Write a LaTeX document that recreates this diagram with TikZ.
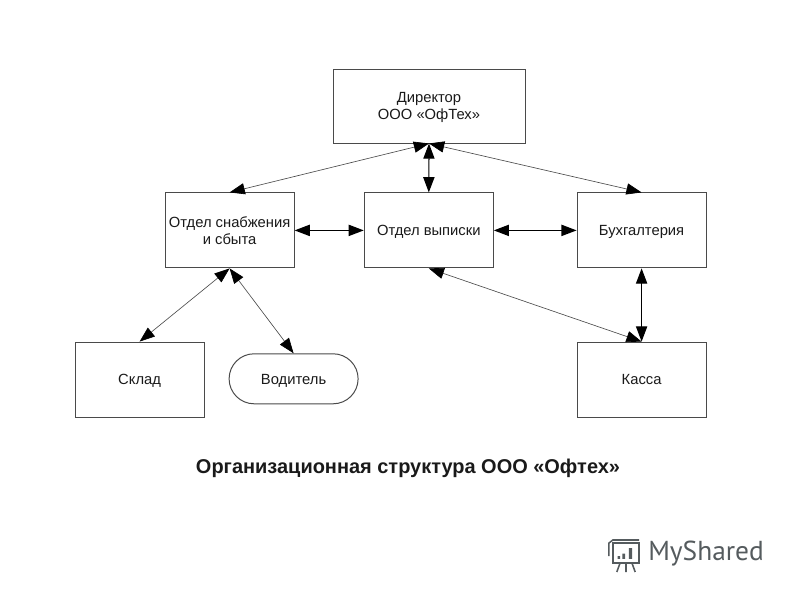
\documentclass[tikz,border=0pt]{standalone}
\usepackage{fontspec}
\setmainfont{Liberation Sans}
\newfontfamily\logofont{PT Sans}
\usetikzlibrary{arrows.meta,calc,positioning,shapes.misc}
\definecolor{OrgInk}{HTML}{4A4A4A}
\definecolor{OrgText}{HTML}{1A1A1A}
\definecolor{OrgLogo}{HTML}{555B5E}

\begin{document}
\begin{tikzpicture}[
            >={Triangle[length=3.8mm,width=2.8mm,color=black]},
            unit/.style={draw=OrgInk,fill=white,line width=0.7pt,text=OrgText,align=center,
              minimum width=3.225cm,minimum height=1.875cm,inner sep=0pt,text depth=0pt,
              font=\fontsize{10.5}{11.8}\selectfont},
            single/.style={unit,text height=7.5pt},
            pill/.style={single,rounded rectangle,minimum height=1.25cm},
            link/.style={<->,line width=0.45pt,draw=OrgInk},
            bond/.style={<->,line width=1pt,draw=black}
          ]
          \useasboundingbox (0,0) rectangle (20,15);
          \node[unit,minimum width=4.8cm,minimum height=1.85cm] (dir) at (10.725,12.35) {Директор\\ООО «ОфТех»};
          \node[unit] (snab) at (5.74,9.24) {Отдел снабжения\\и сбыта};
          \node[single] (vyp) at (10.72,9.24) {Отдел выписки};
          \node[single] (buh) at (16.04,9.24) {Бухгалтерия};
          \node[single] (kassa) at (16.04,5.51) {Касса};
          \node[single] (sklad) at (3.49,5.51) {Склад};
          \node[pill] (vod) at (7.34,5.53) {Водитель};
          \node[font=\bfseries\fontsize{14.2}{16}\selectfont,text=OrgText] (title) at (10.2,3.28) {Организационная структура ООО «Офтех»};
          \draw[link] (dir.south) -- (snab.north);
          \draw[link] (dir.south) -- (buh.north);
          \draw[bond,line width=0.8pt] (dir.south) -- (vyp.north);
          \draw[bond] (snab.east) -- (vyp.west);
          \draw[bond] (vyp.east) -- (buh.west);
          \draw[link] (vyp.south) -- (kassa.north);
          \draw[bond,line width=0.8pt] (buh.south) -- (kassa.north);
          \draw[link] (snab.south) -- (sklad.north);
          \draw[link] (snab.south) -- (vod.north);
          % watermark
          \node[font=\logofont\fontsize{19.5}{22}\selectfont,text=OrgLogo,anchor=west,inner sep=0pt] (logo) at (16.2,1.15) {MyShared};
          \begin{scope}[draw=OrgLogo,line width=1.1pt]
            \draw (15.33,1.42) rectangle (15.98,0.92);
            \draw (15.22,1.1) -- (15.22,1.42) -- (15.32,1.5) -- (15.98,1.5);
            \draw (15.5,0.92) -- (15.42,0.7) (15.65,0.92) -- (15.65,0.7) (15.8,0.92) -- (15.88,0.7);
            \fill[OrgLogo] (15.44,1.03) rectangle (15.5,1.1) (15.56,1.03) rectangle (15.63,1.16) (15.72,1.03) rectangle (15.8,1.3);
          \end{scope}
        \end{tikzpicture}
\end{document}
